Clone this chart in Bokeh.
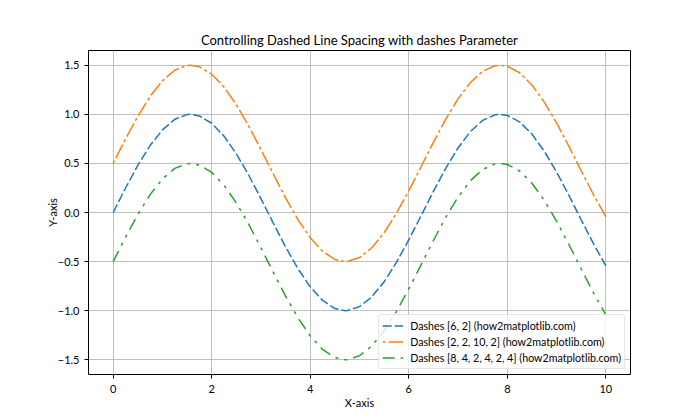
from bokeh.plotting import figure
from bokeh.models import FixedTicker, Legend, LegendItem
from bokeh.embed import file_html
from bokeh.resources import INLINE

x_vals = [0, 0.25, 0.5, 0.75, 1.0, 1.25, 1.5, 1.57, 1.75, 2.0, 2.25, 2.5, 2.75, 3.0, 3.25,
          3.5, 3.75, 4.0, 4.25, 4.5, 4.71, 4.75, 5.0, 5.25, 5.5, 5.75, 6.0, 6.25, 6.5, 6.75,
          7.0, 7.25, 7.5, 7.75, 7.85, 8.0, 8.25, 8.5, 8.75, 9.0, 9.25, 9.5, 9.75, 10.0]
blue_vals = [0.000, 0.247, 0.479, 0.682, 0.841, 0.949, 0.997, 1.000, 0.984, 0.909, 0.778, 0.598,
             0.382, 0.141, -0.108, -0.351, -0.572, -0.757, -0.895, -0.978, -1.000, -0.999,
             -0.959, -0.859, -0.706, -0.508, -0.279, -0.033, 0.215, 0.450, 0.657, 0.824, 0.938,
             0.995, 1.000, 0.989, 0.923, 0.798, 0.624, 0.412, 0.174, -0.075, -0.319, -0.544]
orange_vals = [0.500, 0.747, 0.979, 1.182, 1.341, 1.449, 1.497, 1.500, 1.484, 1.409, 1.278, 1.098,
               0.882, 0.641, 0.392, 0.149, -0.072, -0.257, -0.395, -0.478, -0.500, -0.499,
               -0.459, -0.359, -0.206, -0.008, 0.221, 0.467, 0.715, 0.950, 1.157, 1.324, 1.438,
               1.495, 1.500, 1.489, 1.423, 1.298, 1.124, 0.912, 0.674, 0.425, 0.181, -0.044]
green_vals = [-0.500, -0.253, -0.021, 0.182, 0.341, 0.449, 0.497, 0.500, 0.484, 0.409, 0.278, 0.098,
              -0.118, -0.359, -0.608, -0.851, -1.072, -1.257, -1.395, -1.478, -1.500, -1.499,
              -1.459, -1.359, -1.206, -1.008, -0.779, -0.533, -0.285, -0.050, 0.157, 0.324, 0.438,
              0.495, 0.500, 0.489, 0.423, 0.298, 0.124, -0.088, -0.326, -0.575, -0.819, -1.044]

labels = ["Dashes [6, 2] (how2matplotlib.com)",
          "Dashes [2, 2, 10, 2] (how2matplotlib.com)",
          "Dashes [8, 4, 2, 4, 2, 4] (how2matplotlib.com)"]
x_ticks = [0, 2, 4, 6, 8, 10]
y_ticks = [-1.5, -1.0, -0.5, 0.0, 0.5, 1.0, 1.5]
y_tick_labels = {-1.5: "\u22121.5", -1.0: "\u22121.0", -0.5: "\u22120.5", 0.0: "0.0",
                 0.5: "0.5", 1.0: "1.0", 1.5: "1.5"}

FONT = "Lato"

p = figure(width=700, height=420, output_backend="svg", toolbar_location=None,
           x_range=(-0.5, 10.5), y_range=(-1.65, 1.65),
           title="Controlling Dashed Line Spacing with dashes Parameter",
           min_border_left=88, min_border_right=70, min_border_top=50, min_border_bottom=46)

p.title.align = "center"
p.title.text_font = FONT
p.title.text_font_size = "13px"
p.title.text_font_style = "normal"
p.title.text_color = "black"
p.title.standoff = 6

p.outline_line_color = "black"
p.outline_line_width = 1
p.background_fill_color = "white"
p.border_fill_color = "white"

for ax in (p.xaxis[0], p.yaxis[0]):
    ax.axis_line_color = None
    ax.major_tick_in = 0
    ax.major_tick_out = 4
    ax.minor_tick_line_color = None
    ax.major_tick_line_color = "black"
    ax.major_label_text_font = FONT
    ax.major_label_text_font_size = "11px"
    ax.major_label_text_color = "black"
    ax.axis_label_text_font = FONT
    ax.axis_label_text_font_size = "11px"
    ax.axis_label_text_font_style = "normal"
    ax.axis_label_text_color = "black"

p.xaxis.ticker = FixedTicker(ticks=x_ticks)
p.yaxis.ticker = FixedTicker(ticks=y_ticks)
p.yaxis.major_label_overrides = y_tick_labels
p.xaxis.axis_label = "X-axis"
p.yaxis.axis_label = "Y-axis"
p.xaxis.major_label_standoff = 6
p.yaxis.major_label_standoff = 5
p.xaxis.axis_label_standoff = 0
p.yaxis.axis_label_standoff = -4

p.grid.grid_line_color = "#b0b0b0"
p.grid.grid_line_width = 0.8

r1 = p.line(x_vals, blue_vals, line_color="#1f77b4", line_width=1.5, line_dash="9 3")
r2 = p.line(x_vals, orange_vals, line_color="#ff7f0e", line_width=1.5, line_dash="3 3 15 3")
r3 = p.line(x_vals, green_vals, line_color="#2ca02c", line_width=1.5, line_dash="12 6 3 6 3 6")

legend = Legend(items=[LegendItem(label=labels[0], renderers=[r1]),
                       LegendItem(label=labels[1], renderers=[r2]),
                       LegendItem(label=labels[2], renderers=[r3])],
                location="bottom_right")
legend.label_text_font = FONT
legend.label_text_font_size = "10.7px"
legend.label_text_color = "black"
legend.glyph_width = 21
legend.glyph_height = 15
legend.spacing = 1
legend.padding = 3
legend.margin = 5
legend.label_standoff = 7
legend.border_line_color = "#cccccc"
legend.border_line_width = 1
legend.border_radius = 3
legend.background_fill_alpha = 0.8
p.add_layout(legend)

open("out.html", "w").write(file_html(p, INLINE))
